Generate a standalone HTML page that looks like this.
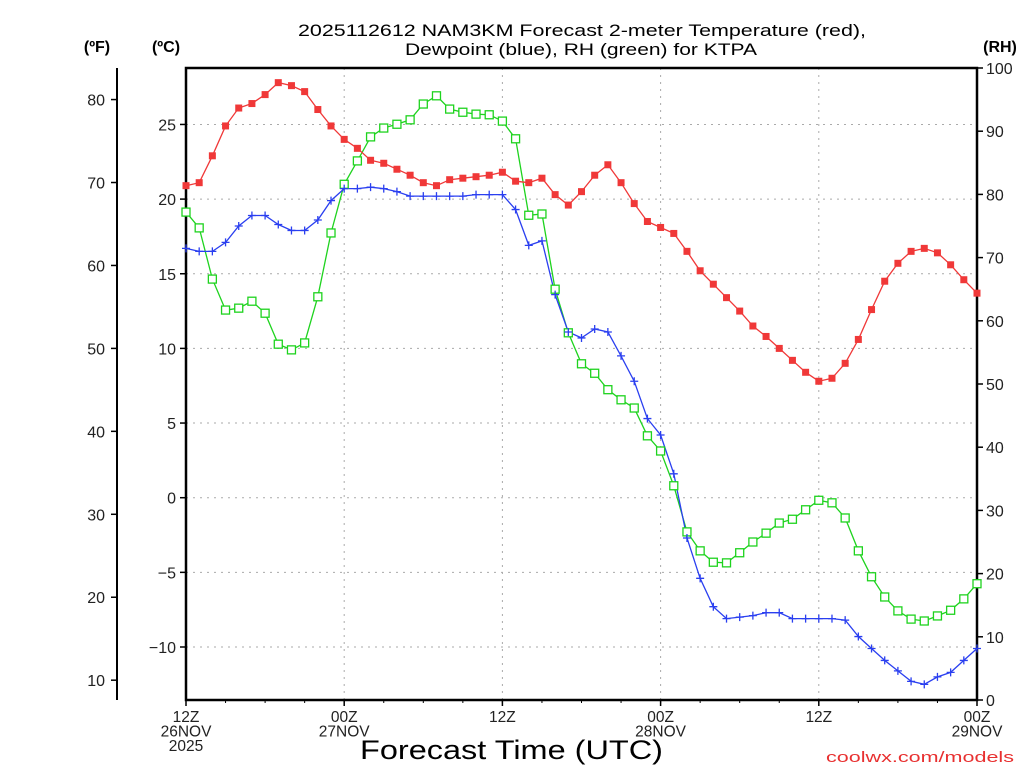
<!DOCTYPE html>
<html><head><meta charset="utf-8"><style>
body{margin:0;background:#fff;width:1024px;height:768px;overflow:hidden}
svg text{font-family:"Liberation Sans","DejaVu Sans",sans-serif}
</style></head><body>
<svg id="chart" width="1024" height="768" xmlns="http://www.w3.org/2000/svg">
<g id="grid"></g>
<g id="axes"></g>
<g id="series"></g>
<text x="298" y="36" font-size="17" fill="#000" textLength="568" lengthAdjust="spacingAndGlyphs">2025112612 NAM3KM Forecast 2-meter Temperature (red),</text>
<text x="405" y="55" font-size="17" fill="#000" textLength="352" lengthAdjust="spacingAndGlyphs">Dewpoint (blue), RH (green) for KTPA</text>
<text x="97" y="52" text-anchor="middle" font-size="16" font-weight="bold">(ºF)</text>
<text x="166" y="52" text-anchor="middle" font-size="16" font-weight="bold">(ºC)</text>
<text x="1000" y="52" text-anchor="middle" font-size="16" font-weight="bold">(RH)</text>
<text x="360" y="759" font-size="27" fill="#000" textLength="303" lengthAdjust="spacingAndGlyphs">Forecast Time (UTC)</text>
<text x="826" y="762" font-size="15" fill="#e83030" textLength="188" lengthAdjust="spacingAndGlyphs">coolwx.com/models</text>
</svg>
<script>
const tempC=[20.9,21.1,22.9,24.9,26.1,26.4,27.0,27.8,27.6,27.2,26.0,24.9,24.0,23.4,22.6,22.4,22.0,21.6,21.1,20.9,21.3,21.4,21.5,21.6,21.8,21.2,21.1,21.4,20.3,19.6,20.5,21.6,22.3,21.1,19.7,18.5,18.1,17.7,16.5,15.2,14.3,13.4,12.5,11.5,10.8,10.0,9.2,8.4,7.8,8.0,9.0,10.6,12.6,14.5,15.7,16.5,16.7,16.4,15.6,14.6,13.7];
const dewC=[16.7,16.5,16.5,17.1,18.2,18.9,18.9,18.3,17.9,17.9,18.6,19.9,20.7,20.7,20.8,20.7,20.5,20.2,20.2,20.2,20.2,20.2,20.3,20.3,20.3,19.3,16.9,17.2,13.6,11.1,10.7,11.3,11.1,9.5,7.8,5.3,4.2,1.6,-2.7,-5.4,-7.3,-8.1,-8.0,-7.9,-7.7,-7.7,-8.1,-8.1,-8.1,-8.1,-8.2,-9.3,-10.1,-10.9,-11.6,-12.3,-12.5,-12.0,-11.7,-10.9,-10.1];
const rh=[77.2,74.7,66.6,61.7,62.0,63.1,61.2,56.3,55.4,56.5,63.8,73.9,81.6,85.3,89.1,90.5,91.1,91.8,94.3,95.6,93.5,93.0,92.7,92.6,91.6,88.8,76.7,76.9,65.0,58.1,53.2,51.7,49.1,47.5,46.2,41.8,39.4,33.9,26.6,23.6,21.8,21.7,23.3,25.0,26.4,28.0,28.6,30.1,31.6,31.2,28.8,23.6,19.5,16.3,14.1,12.8,12.5,13.3,14.2,16.0,18.4];
const cTicks=[-10,-5,0,5,10,15,20,25];
const fTicks=[10,20,30,40,50,60,70,80];
const rhTicks=[0,10,20,30,40,50,60,70,80,90,100];
const xTickHours=[0,12,24,36,48,60];
const xTickLabels=[["12Z","26NOV","2025"],["00Z","27NOV"],["12Z"],["00Z","28NOV"],["12Z"],["00Z","29NOV"]];
const totalHours=60;

const X0=186,X1=977,Y0=68,Y1=700;
const xS=h=>X0+(X1-X0)*h/totalHours;
const cS=c=>497.7-14.93*c;
const fS=f=>cS((f-32)*5/9);
const rS=r=>Y1-(Y1-Y0)*r/100;
const NS="http://www.w3.org/2000/svg";
function mk(tag,attrs,parent){const e=document.createElementNS(NS,tag);for(const k in attrs)e.setAttribute(k,attrs[k]);parent.appendChild(e);return e;}
const grid=document.getElementById('grid'),axes=document.getElementById('axes'),series=document.getElementById('series');

cTicks.forEach(c=>{const y=cS(c);
 const g=mk('line',{x1:X0,x2:X1,y1:y,y2:y,stroke:'#aaa','stroke-dasharray':'2,5'},grid);
 
 mk('line',{x1:X0-6,x2:X0,y1:y,y2:y,stroke:'#000','stroke-width':1.5},axes);
 const t=mk('text',{x:X0-10,y:y+6,'text-anchor':'end','font-size':16,fill:'#222'},axes);t.textContent=c<0?'\u2212'+(-c):c;
 
});
xTickHours.forEach((h,i)=>{const x=xS(h);
 if(i>0&&i<xTickHours.length-1){const g=mk('line',{x1:x,x2:x,y1:Y0,y2:Y1,stroke:'#aaa','stroke-dasharray':'2,5'},grid);
 }
 mk('line',{x1:x,x2:x,y1:Y1,y2:Y1+6,stroke:'#000','stroke-width':1.5},axes);
 xTickLabels[i].forEach((s,j)=>{const t=mk('text',{x:x,y:722+j*14.5,'text-anchor':'middle','font-size':15.5,fill:'#222'},axes);t.textContent=s;
 });
});
for(let h=0;h<=totalHours;h+=3){mk('line',{x1:xS(h),x2:xS(h),y1:Y1,y2:Y1+3,stroke:'#000'},axes);}
mk('line',{x1:117,x2:117,y1:Y0,y2:Y1,stroke:'#000','stroke-width':2},axes);
fTicks.forEach(f=>{const y=fS(f);mk('line',{x1:111,x2:117,y1:y,y2:y,stroke:'#000','stroke-width':1.5},axes);
 const t=mk('text',{x:105,y:y+6,'text-anchor':'end','font-size':16,fill:'#222'},axes);t.textContent=f;
 });
rhTicks.forEach(r=>{const y=rS(r);mk('line',{x1:X1,x2:X1+6,y1:y,y2:y,stroke:'#000','stroke-width':1.5},axes);
 const t=mk('text',{x:986,y:y+6,'text-anchor':'start','font-size':16,fill:'#222'},axes);t.textContent=r;
 });
const fr=mk('rect',{x:X0,y:Y0,width:X1-X0,height:Y1-Y0,fill:'none',stroke:'#000','stroke-width':2.5},axes);


function line(vals,sc,col,name){const p=vals.map((v,i)=>xS(i).toFixed(1)+','+sc(v).toFixed(1)).join(' ');
 const l=mk('polyline',{points:p,fill:'none',stroke:col,'stroke-width':1.3},series);
 }
line(rh,rS,'#1ed31e','rh-line');
line(dewC,cS,'#2a3ff0','dewpoint-line');
line(tempC,cS,'#f03838','temperature-line');
rh.forEach((v,i)=>{const m=mk('rect',{x:xS(i)-4,y:rS(v)-4,width:8,height:8,fill:'#fff',stroke:'#1ed31e','stroke-width':1.3},series);
 });
dewC.forEach((v,i)=>{const x=xS(i),y=cS(v);const m=mk('path',{d:`M${x-4},${y}H${x+4}M${x},${y-4}V${y+4}`,stroke:'#2a3ff0','stroke-width':1.3},series);
 });
tempC.forEach((v,i)=>{const m=mk('rect',{x:xS(i)-3.5,y:cS(v)-3.5,width:7,height:7,fill:'#f03838'},series);
 });
</script>
</body></html>
